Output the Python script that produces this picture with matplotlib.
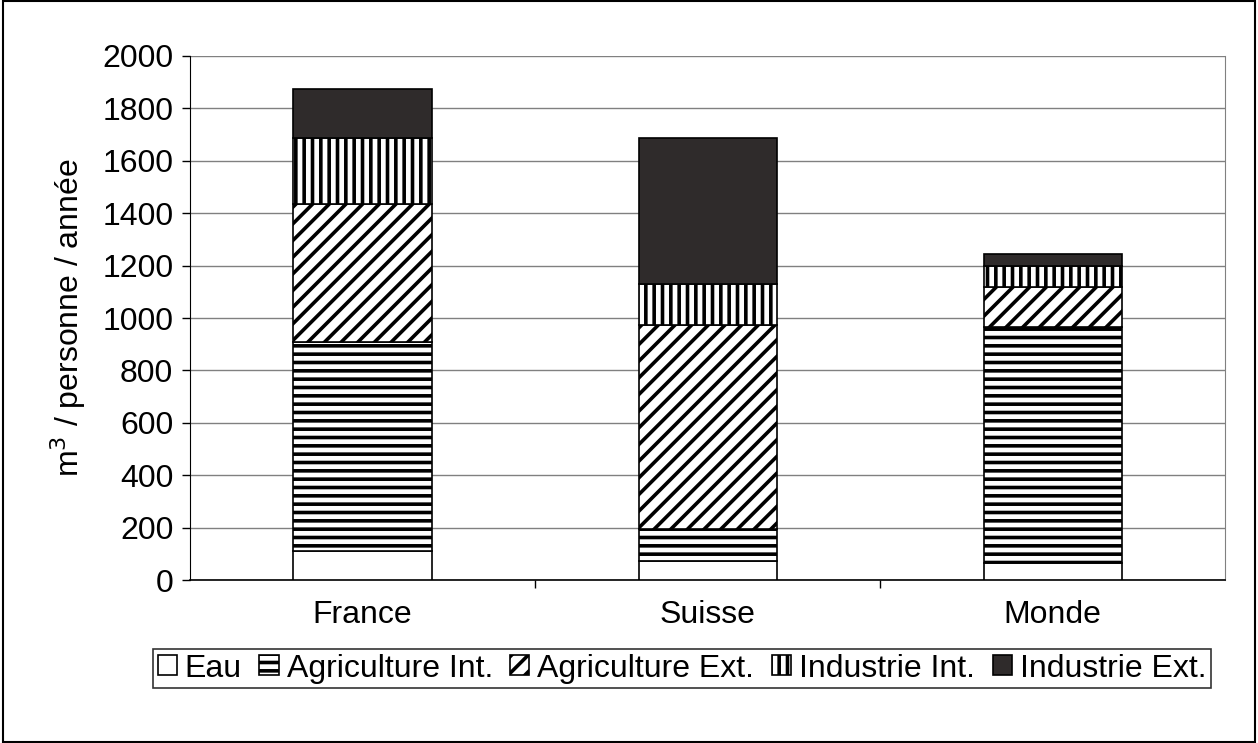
import matplotlib.pyplot as plt
import numpy as np

plt.rcParams['font.family'] = ['Liberation Sans', 'DejaVu Sans']
plt.rcParams['hatch.linewidth'] = 2.6

pays = ['France', 'Suisse', 'Monde']
series = ['Eau', 'Agriculture Int.', 'Agriculture Ext.', 'Industrie Int.', 'Industrie Ext.']
# segment sizes
eau = [112, 72, 67]
agri_int = [798, 123, 897]
agri_ext = [525, 780, 156]
ind_int = [250, 155, 77]
ind_ext = [190, 555, 48]

data = [eau, agri_int, agri_ext, ind_int, ind_ext]
hatches = ['', '--', '//', '||', '']
faces = ['white', 'white', 'white', 'white', '#2f2b2b']

fig = plt.figure(figsize=(12.58, 7.43), dpi=100)
ax = fig.add_axes([0.151, 0.219, 0.823, 0.706])

x = np.arange(len(pays))
bottom = np.zeros(len(pays))
handles = []
for vals, h, fc, name in zip(data, hatches, faces, series):
    b = ax.bar(x, vals, 0.4, bottom=bottom, color=fc, hatch=h,
               edgecolor='black', linewidth=1.2, label=name, zorder=3)
    bottom += np.array(vals)
    handles.append(b)

ax.set_xlim(-0.5, 2.5)
ax.set_ylim(0, 2000)
ax.set_yticks(np.arange(0, 2001, 200))
ax.yaxis.grid(True, color='#808080', linewidth=1.0, zorder=0)
ax.set_xticks(x)
ax.set_xticklabels(pays, fontsize=23)
ax.set_xticks([0.5, 1.5], minor=True)
ax.tick_params(axis='x', which='major', length=0, pad=14)
ax.tick_params(axis='x', which='minor', length=6, direction='out', width=1)
ax.tick_params(axis='y', labelsize=23, length=6, direction='out', width=1, pad=6)
ax.set_ylabel('m$^3$ / personne / année', fontsize=23, labelpad=10)

ax.spines['top'].set_visible(False)
ax.spines['right'].set_color('#808080')
ax.spines['left'].set_color('black')
ax.spines['bottom'].set_color('black')
ax.spines['bottom'].set_linewidth(1.2)

leg = fig.legend(handles=handles, labels=series, loc='lower center',
                 bbox_to_anchor=(0.542, 0.052), ncol=5, fontsize=23,
                 frameon=True, fancybox=False, edgecolor='black',
                 handlelength=0.6, handleheight=0.6, handletextpad=0.25,
                 columnspacing=0.55, borderpad=0.15)
leg.get_frame().set_linewidth(1.2)

fig.patches.append(plt.Rectangle((0.002, 0.002), 0.996, 0.996, transform=fig.transFigure,
                                 fill=False, edgecolor='black', linewidth=1.5))

fig.savefig('out.png', dpi=100)
